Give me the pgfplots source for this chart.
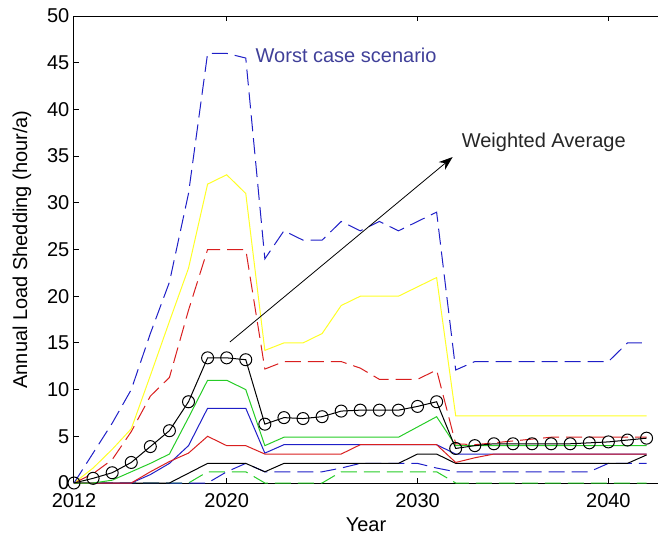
\documentclass[border=0pt]{standalone}
\usepackage{pgfplots}
\pgfplotsset{compat=1.18}
\usepackage{pgfplotstable}
\usepackage{fontspec}
\setmainfont{Liberation Sans}
\usetikzlibrary{arrows.meta,calc}

\definecolor{mblue}{rgb}{0.12,0.12,0.78}
\definecolor{myellow}{rgb}{1,1,0.15}
\definecolor{mred}{rgb}{0.85,0.12,0.12}
\definecolor{mgreen}{rgb}{0.15,0.8,0.15}
\definecolor{labelblue}{rgb}{0.25,0.25,0.6}

% Annual load shedding per scenario (hour/a)
% wc: worst case, wa: weighted average
\pgfplotstableread{
year wc   ye   rd   gs  bs  rs  ks   bd  gd  kd wa
2012 0    0    0    0   0   0   0    0   0   0  0
2013 3.2  1.6  1.0  0   0   0   0    0   0   0  0.5
2014 6.4  3.6  2.5  0.3 0   0   0    0   0   0  1.1
2015 10   5.8  5.5  1.2 0   0   0    0   0   0  2.2
2016 16   11.5 9.3  2.1 0.9 1.2 0    0   0   0  3.9
2017 21.5 17.3 11.3 3.1 2.1 2.3 0    0   0   0  5.6
2018 31   23   18.5 7   4   3.2 1.05 0   0   0  8.7
2019 46   32   25   11  8   5   2.1  0   1.2 0  13.4
2020 46   33   25   11  8   4   2.1  1.2 1.2 0  13.4
2021 45.5 31   25   10  8   4   2.1  2.1 1.2 0  13.2
2022 24   14.2 12.2 4   3.2 3.1 1.2  1.2 0   0  6.3
2023 27   15   13   4.9 4.1 3.1 2.1  1.2 0   0  7.0
2024 26   15   13   4.9 4.1 3.1 2.1  1.2 0   0  6.9
2025 26   16   13   4.9 4.1 3.1 2.1  1.2 0   0  7.1
2026 28   19   13   4.9 4.1 3.1 2.1  1.6 1.2 0  7.7
2027 27   20   12.3 4.9 4.1 4.1 2.1  2.1 1.2 0  7.8
2028 28   20   11.1 4.9 4.1 4.1 2.1  2.1 1.2 0  7.8
2029 27   20   11.1 4.9 4.1 4.1 2.1  2.1 1.2 0  7.8
2030 28   21   11.1 6   4.1 4.1 3.1  2.1 1.2 0  8.2
2031 29   22   12.1 7.1 4.1 4.1 3.1  1.6 1.2 0  8.7
2032 12.1 7.2  4.2  4   3.1 2.2 2.1  1.2 0   0  3.7
2033 13   7.2  4.1  4   3.1 2.7 2.1  1.2 0   0  4.0
2034 13   7.2  4.3  4   3.1 3.1 2.1  1.2 0   0  4.2
2035 13   7.2  4.5  4   3.1 3.1 2.1  1.2 0   0  4.2
2036 13   7.2  4.7  4   3.1 3.1 2.1  1.2 0   0  4.2
2037 13   7.2  4.9  4   3.1 3.1 2.1  1.2 0   0  4.2
2038 13   7.2  4.9  4   3.1 3.1 2.1  1.2 0   0  4.2
2039 13   7.2  4.9  4   3.1 3.1 2.1  1.2 0   0  4.3
2040 13   7.2  4.9  4   3.1 3.1 2.1  2.1 0   0  4.4
2041 15   7.2  4.9  4   3.1 3.1 2.1  2.1 0   0  4.6
2042 15   7.2  4.9  4   3.1 3.1 3.0  2.1 0   0  4.8
}\shedding

\begin{document}
\begin{tikzpicture}
\begin{axis}[
  scale only axis,
  width=292pt, height=233.5pt,
  xmin=2012, xmax=2042.6, ymin=0, ymax=50,
  axis x line*=box, axis y line*=left,
  axis line style={black, line width=0.5pt},
  xtick={2012,2020,2030,2040},
  ytick={0,5,...,50},
  tick align=inside,
  major tick length=2.5pt,
  tick style={black, line width=0.5pt},
  /pgf/number format/assume math mode=true,
  xticklabel style={/pgf/number format/1000 sep={}, yshift=-1.5pt},
  yticklabel style={xshift=1.2pt},
  ticklabel style={font=\fontsize{10}{12}\selectfont},
  xlabel={Year}, ylabel={Annual Load Shedding (hour/a)},
  label style={font=\fontsize{10}{12}\selectfont},
  every axis x label/.style={at={(axis description cs:0.5,-0.09)}, anchor=center},
  every axis y label/.style={at={(axis description cs:-0.089,0.5)}, rotate=90, anchor=center},
  clip=false,
  every axis plot/.append style={line width=0.5pt},
  dashed line/.style={dash pattern=on 8pt off 3.5pt},
]
\addplot[black, dashed line] table[x=year, y=kd] {\shedding};
\addplot[mgreen, dashed line] table[x=year, y=gd] {\shedding};
\addplot[mblue, dashed line] table[x=year, y=bd] {\shedding};
\addplot[black] table[x=year, y=ks] {\shedding};
\addplot[mblue] table[x=year, y=bs] {\shedding};
\addplot[mred] table[x=year, y=rs] {\shedding};
\addplot[mgreen] table[x=year, y=gs] {\shedding};
\addplot[mred, dashed line] table[x=year, y=rd] {\shedding};
\addplot[myellow] table[x=year, y=ye] {\shedding};
\addplot[mblue, dashed line] table[x=year, y=wc] {\shedding};
\addplot[black, mark=o, mark size=3pt, mark options={solid, line width=0.5pt}] table[x=year, y=wa] {\shedding};

\node[anchor=west, inner sep=0, text=labelblue, font=\fontsize{10}{12}\selectfont]
  at (axis cs:2021.5,45.8) {Worst case scenario};
\node[anchor=west, inner sep=0, text=black!85, font=\fontsize{10}{12}\selectfont]
  at (axis cs:2032.3,36.5) {Weighted Average};
\draw[black, line width=0.4pt, -{Stealth[length=7pt, width=5pt]}]
  (axis cs:2020.17,15.1) -- (axis cs:2031.84,34.9);
\end{axis}
\pgfresetboundingbox
\path ($(current axis.south west)+(-37pt,-29.5pt)$) rectangle ($(current axis.north east)+(1pt,8pt)$);
\end{tikzpicture}
\end{document}
